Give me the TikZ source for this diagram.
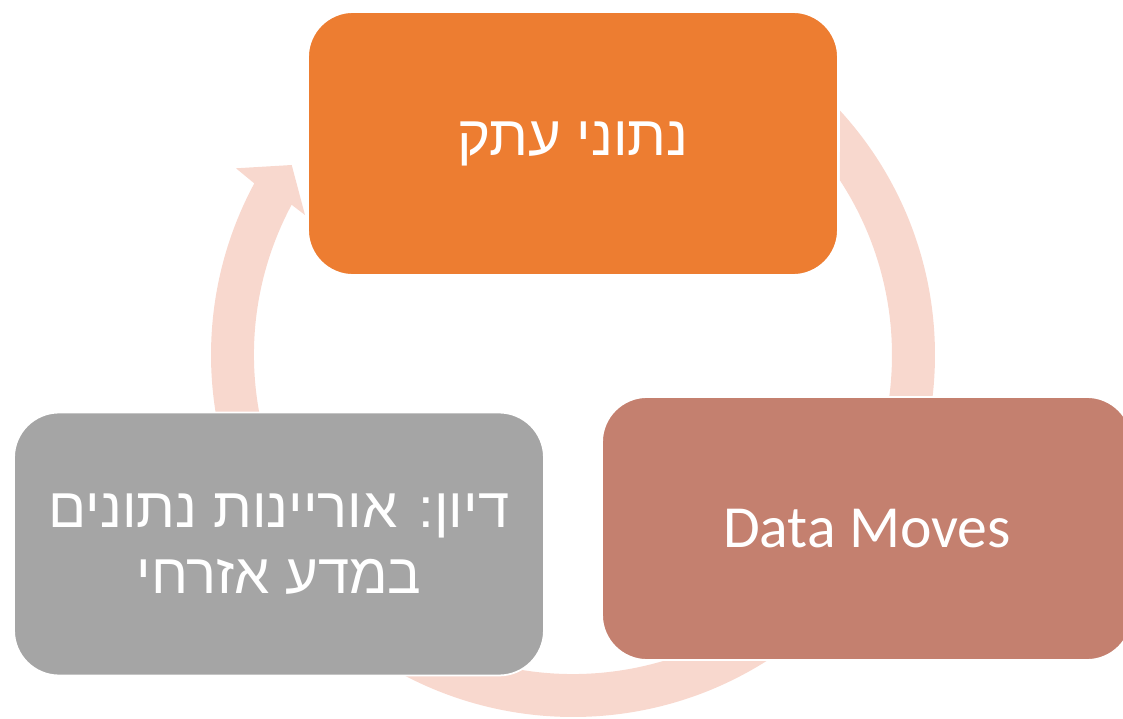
\documentclass[tikz,border=0pt]{standalone}
\usepackage{fontspec}
\setmainfont{Carlito}
\newfontfamily\hebfont[Script=Hebrew]{Liberation Sans}
\TeXXeTstate=1
\usetikzlibrary{calc}
\definecolor{topfill}{HTML}{ED7D31}
\definecolor{rightfill}{HTML}{C4806F}
\definecolor{leftfill}{HTML}{A5A5A5}
\definecolor{ringfill}{HTML}{F8D8CE}

\begin{document}
\begin{tikzpicture}[
x=0.02cm,y=0.02cm,
box/.style={rectangle, rounded corners=0.9cm, draw=white, line width=1pt, minimum width=10.6cm, minimum height=5.26cm, text=white, align=center, font=\fontsize{34}{37}\selectfont},
heb/.style={font=\hebfont\fontsize{32}{38}\selectfont},
]
\clip (0,0) rectangle (1123,718);

%cycle ring with arrow head
\coordinate (c) at (573,363);
\fill[ringfill] ([shift={(42.47:362)}]c) arc[start angle=42.47, end angle=-208.3, radius=362]
  -- (236,549.7) -- (291.7,553) -- (305,503)
  -- ([shift={(-208.1:319)}]c) arc[start angle=-208.1, end angle=33.18, radius=319] -- cycle;

%boxes
\node (data)  [box, heb, fill=topfill]   at (573,574.5) {\raisebox{-0.1cm}{\beginR נתוני עתק\endR}};
\node (moves) [box, fill=rightfill]      at (867,189.5) {Data Moves};
\node (lit)   [box, heb, fill=leftfill]  at (279,174)   {\beginR דיון: אוריינות נתונים\endR\\\beginR במדע אזרחי\endR};

\end{tikzpicture}
\end{document}
